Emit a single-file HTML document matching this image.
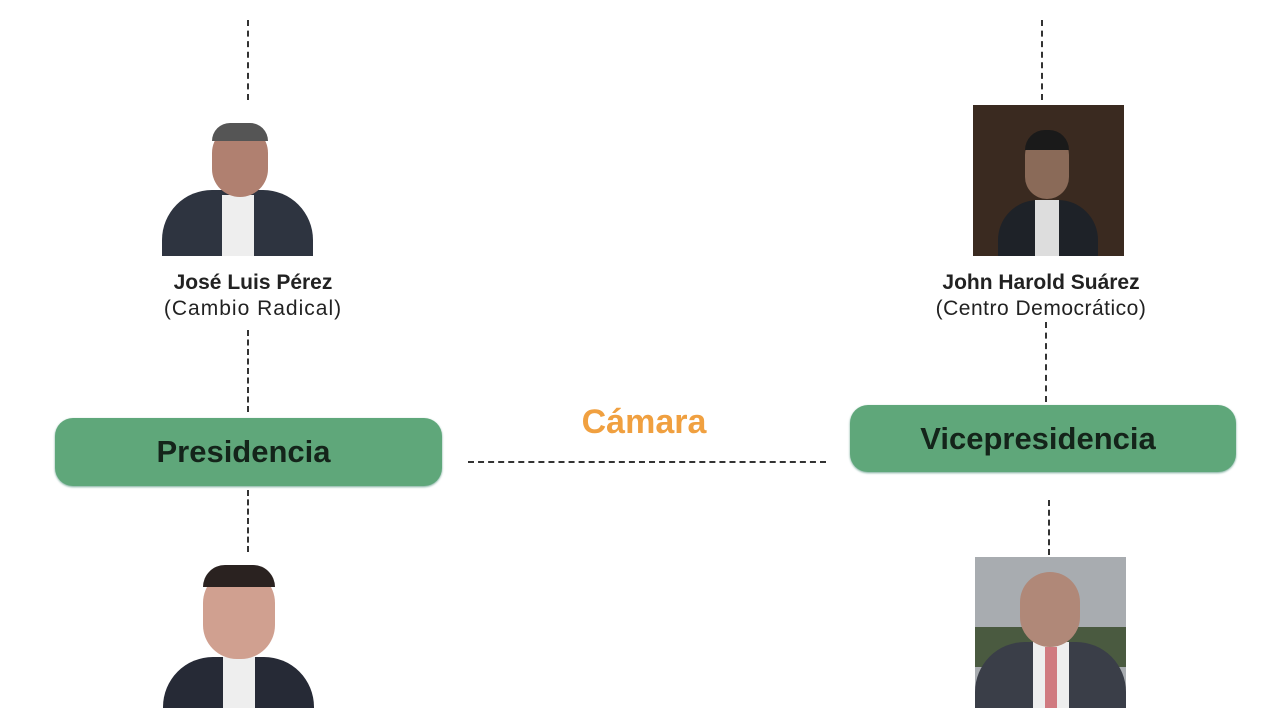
<!DOCTYPE html>
<html><head><meta charset="utf-8"><style>
body{margin:0;width:1280px;height:720px;background:#fff;position:relative;overflow:hidden;font-family:"Liberation Sans",sans-serif}
.a{position:absolute}
.v{position:absolute;border-left:2px dashed #333;width:0}
.box{position:absolute;background:#5fa77a;border-radius:18px;display:flex;align-items:center;justify-content:center;font-size:31px;font-weight:bold;color:#14241a;box-shadow:0 1px 2px #7a9}
.n{position:absolute;text-align:center;width:300px;font-size:20px;color:#222;line-height:25px}
.ph{position:absolute;width:151px;height:151px;overflow:hidden}
</style></head><body>
<div class="v" style="left:247px;top:20px;height:80px"></div>
<div class="v" style="left:247px;top:330px;height:82px"></div>
<div class="v" style="left:247px;top:490px;height:62px"></div>
<div class="v" style="left:1041px;top:20px;height:80px"></div>
<div class="v" style="left:1045px;top:322px;height:80px"></div>
<div class="v" style="left:1048px;top:500px;height:55px"></div>
<div class="a" style="left:468px;top:461px;width:358px;border-top:2px dashed #333"></div>

<div class="box" style="left:55px;top:418px;width:387px;height:68px"><span style="margin-right:10px">Presidencia</span></div>
<div class="box" style="left:850px;top:405px;width:386px;height:67px"><span style="margin-right:10px">Vicepresidencia</span></div>
<div class="a" style="left:544px;top:403px;width:200px;text-align:center;font-size:34px;font-weight:bold;color:#f0a040">Cámara</div>

<div class="n" style="left:103px;top:270px"><b style="font-size:21px">José Luis Pérez</b><br><span style="font-size:21px;letter-spacing:1px">(Cambio Radical)</span></div>
<div class="n" style="left:891px;top:270px"><b style="font-size:21px">John Harold Suárez</b><br><span style="font-size:21px;letter-spacing:0.5px">(Centro Democrático)</span></div>

<div class="ph" style="left:162px;top:105px;background:#fff">
<div class="a" style="left:0;top:85px;width:151px;height:80px;background:#2e3440;border-radius:50px 50px 0 0"></div>
<div class="a" style="left:60px;top:90px;width:32px;height:61px;background:#eee"></div>
<div class="a" style="left:50px;top:20px;width:56px;height:72px;background:#b08070;border-radius:28px"></div>
<div class="a" style="left:50px;top:18px;width:56px;height:18px;background:#555;border-radius:28px 28px 0 0"></div>
</div>
<div class="ph" style="left:973px;top:105px;background:#3a2a20">
<div class="a" style="left:25px;top:95px;width:100px;height:70px;background:#1e2228;border-radius:40px 40px 0 0"></div>
<div class="a" style="left:62px;top:95px;width:24px;height:56px;background:#ddd"></div>
<div class="a" style="left:52px;top:28px;width:44px;height:66px;background:#8a6a58;border-radius:22px"></div>
<div class="a" style="left:52px;top:25px;width:44px;height:20px;background:#1a1a1a;border-radius:22px 22px 0 0"></div>
</div>
<div class="ph" style="left:163px;top:557px;background:#fff">
<div class="a" style="left:0;top:100px;width:151px;height:60px;background:#262a36;border-radius:50px 50px 0 0"></div>
<div class="a" style="left:60px;top:100px;width:32px;height:51px;background:#eee"></div>
<div class="a" style="left:40px;top:12px;width:72px;height:90px;background:#d0a090;border-radius:34px"></div>
<div class="a" style="left:40px;top:8px;width:72px;height:22px;background:#2a2220;border-radius:34px 34px 0 0"></div>
</div>
<div class="ph" style="left:975px;top:557px;background:#a8acb0">
<div class="a" style="left:0;top:70px;width:151px;height:40px;background:#4a5a40"></div>
<div class="a" style="left:0;top:85px;width:151px;height:70px;background:#3a3e48;border-radius:50px 50px 0 0"></div>
<div class="a" style="left:58px;top:85px;width:36px;height:66px;background:#eee"></div>
<div class="a" style="left:70px;top:90px;width:12px;height:61px;background:#d07a80"></div>
<div class="a" style="left:45px;top:15px;width:60px;height:75px;background:#b08878;border-radius:30px"></div>
</div>
</body></html>
